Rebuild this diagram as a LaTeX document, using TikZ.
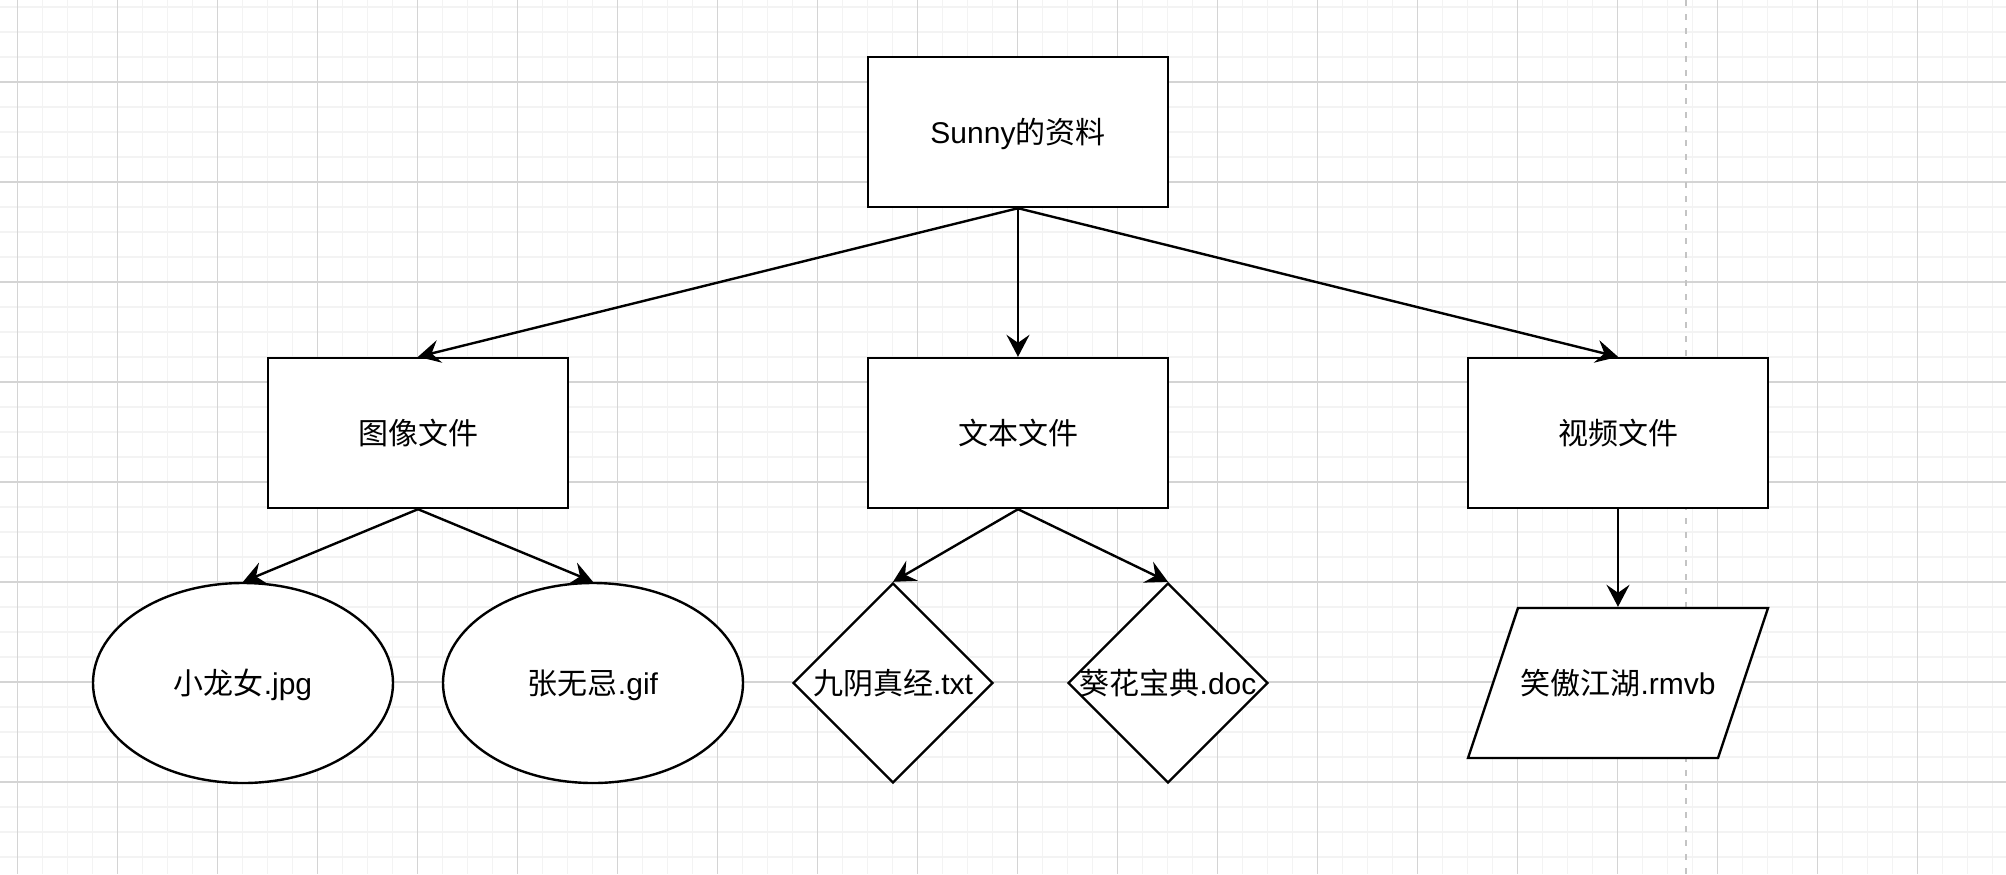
\documentclass[tikz,border=0pt]{standalone}
\usepackage{fontspec}
\setmainfont{Liberation Sans}
\newfontfamily\cjk{Noto Sans CJK SC}
\usetikzlibrary{arrows.meta, shapes.geometric}
\definecolor{gridmajor}{HTML}{D4D4D4}
\definecolor{gridminor}{HTML}{F3F3F3}
\definecolor{pagebreak}{HTML}{C4C4C4}

\begin{document}
\begin{tikzpicture}[x=0.5pt, y=-0.5pt,
    every node/.style={font=\fontsize{15}{18}\selectfont, text height=13.2pt, text depth=1.8pt},
    box/.style={draw, line width=1.2pt, fill=white, minimum width=150pt, minimum height=75pt},
    oval/.style={draw, ellipse, line width=1.2pt, fill=white, minimum width=150pt, minimum height=100pt},
    rhomb/.style={draw, diamond, line width=1.2pt, fill=white, inner sep=0pt, minimum width=100pt, minimum height=100pt},
    slant/.style={draw, trapezium, trapezium left angle=71.57, trapezium right angle=108.43,
        trapezium stretches body, line width=1.2pt, fill=white, inner xsep=0pt, inner ysep=30pt,
        minimum width=150pt},
    link/.style={line width=1.2pt, -{Stealth[length=11pt, width=11.5pt, inset=4pt]}}]
    \useasboundingbox (0,0) rectangle (2006,874);
    \fill[white] (0,0) rectangle (2006,874);
    % grid
    \foreach \gx in {17.4,42.4,...,2006} \draw[gridminor, line width=0.8pt] (\gx,0) -- (\gx,874);
    \foreach \gy in {7,32,...,874} \draw[gridminor, line width=0.8pt] (0,\gy) -- (2006,\gy);
    \foreach \gx in {17.4,117.4,...,2006} \draw[gridmajor, line width=0.6pt] (\gx,0) -- (\gx,874);
    \foreach \gy in {82,182,...,874} \draw[gridmajor, line width=0.6pt] (0,\gy) -- (2006,\gy);
    \draw[pagebreak, line width=1pt, dash pattern=on 3pt off 4pt] (1686,0) -- (1686,874);

    \node[box] (sunny) at (1018,132) {Sunny{\cjk 的资料}};
    \node[box] (tuxiang) at (418,433) {\cjk 图像文件};
    \node[box] (wenben) at (1018,433) {\cjk 文本文件};
    \node[box] (shipin) at (1618,433) {\cjk 视频文件};

    \node[oval] (xiaolongnv) at (243,683) {{\cjk 小龙女}.jpg};
    \node[oval] (zhangwuji) at (593,683) {{\cjk 张无忌}.gif};
    \node[rhomb] (jiuyin) at (893,683) {\makebox[0pt]{{\cjk 九阴真经}.txt}};
    \node[rhomb] (kuihua) at (1168,683) {\makebox[0pt]{{\cjk 葵花宝典}.doc}};
    \node[slant] (xiaoao) at (1618,683) {\makebox[0pt]{{\cjk 笑傲江湖}.rmvb}};

    \draw[link] (sunny.south) -- (tuxiang.north);
    \draw[link] (sunny.south) -- (wenben.north);
    \draw[link] (sunny.south) -- (shipin.north);
    \draw[link] (tuxiang.south) -- (xiaolongnv.north);
    \draw[link] (tuxiang.south) -- (zhangwuji.north);
    \draw[link] (wenben.south) -- (jiuyin.north);
    \draw[link] (wenben.south) -- (kuihua.north);
    \draw[link] (shipin.south) -- (shipin.south |- xiaoao.north);
\end{tikzpicture}
\end{document}
